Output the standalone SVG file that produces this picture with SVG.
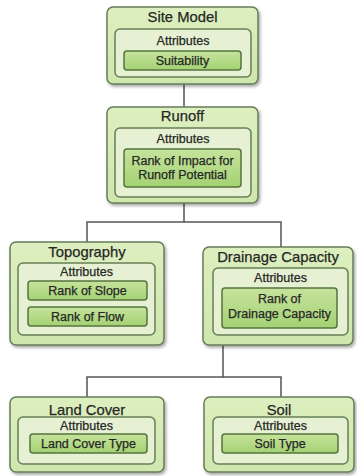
<svg xmlns="http://www.w3.org/2000/svg" width="357" height="476" viewBox="0 0 357 476">
<defs>
<filter id="sh" x="-10%" y="-10%" width="125%" height="125%">
<feDropShadow dx="1.5" dy="2" stdDeviation="1.5" flood-color="#000" flood-opacity="0.35"/>
</filter>
<linearGradient id="g1" x1="0" y1="0" x2="0" y2="1">
<stop offset="0" stop-color="#ddefbf"/>
<stop offset="1" stop-color="#cfe6ac"/>
</linearGradient>
<linearGradient id="g3" x1="0" y1="0" x2="0" y2="1">
<stop offset="0" stop-color="#c6e39c"/>
<stop offset="1" stop-color="#a4d274"/>
</linearGradient>
</defs>
<style>
.outer{fill:url(#g1);stroke:#657d58;stroke-width:1.5;filter:url(#sh)}
.inner{fill:#e5f1d2;stroke:#677f57;stroke-width:1.5}
.hl{fill:url(#g3);stroke:#56743f;stroke-width:1.5}
.t{font-family:"Liberation Sans",Arial,sans-serif;fill:#262626;stroke:#262626;stroke-width:0.25;text-anchor:middle}
.title{font-size:14.8px}
.attr{font-size:12.5px}
.lbl{font-size:12.5px}
.conn{fill:none;stroke:#555;stroke-width:1.5}
</style>
<g id="connectors">
<path class="conn" d="M184 84V107"/>
<path class="conn" d="M184 203V222H87V242"/>
<path class="conn" d="M184 222H281V247"/>
<path class="conn" d="M223 345V377H87V397"/>
<path class="conn" d="M223 377H281V397"/>
</g>
<g id="site-model">
<rect class="outer" x="107" y="7" width="151" height="77" rx="6"/>
<text class="t title" x="182.5" y="22">Site Model</text>
<rect class="inner" x="115" y="29" width="136" height="48" rx="5"/>
<text class="t attr" x="183" y="45">Attributes</text>
<rect class="hl" x="124" y="51" width="117" height="19" rx="3"/>
<text class="t lbl" x="182.5" y="65">Suitability</text>
</g>
<g id="runoff">
<rect class="outer" x="107" y="107" width="151" height="96" rx="6"/>
<text class="t title" x="182.5" y="121">Runoff</text>
<rect class="inner" x="115" y="128" width="136" height="69" rx="5"/>
<text class="t attr" x="183" y="143">Attributes</text>
<rect class="hl" x="124" y="149" width="117" height="38" rx="3"/>
<text class="t lbl" x="182.5" y="165">Rank of Impact for</text>
<text class="t lbl" x="182.5" y="179">Runoff Potential</text>
</g>
<g id="topography">
<rect class="outer" x="10" y="242" width="154" height="103" rx="6"/>
<text class="t title" x="87" y="257">Topography</text>
<rect class="inner" x="18" y="263" width="137" height="72" rx="5"/>
<text class="t attr" x="86.5" y="276">Attributes</text>
<rect class="hl" x="28" y="281" width="119" height="19" rx="3"/>
<text class="t lbl" x="87.5" y="295">Rank of Slope</text>
<rect class="hl" x="28" y="307" width="119" height="19" rx="3"/>
<text class="t lbl" x="87.5" y="321">Rank of Flow</text>
</g>
<g id="drainage-capacity">
<rect class="outer" x="203" y="247" width="150" height="98" rx="6"/>
<text class="t title" x="278" y="262">Drainage Capacity</text>
<rect class="inner" x="213" y="268" width="135" height="67" rx="5"/>
<text class="t attr" x="280.5" y="282">Attributes</text>
<rect class="hl" x="222" y="288" width="115" height="40" rx="3"/>
<text class="t lbl" x="279.5" y="303">Rank of</text>
<text class="t lbl" x="279.5" y="318">Drainage Capacity</text>
</g>
<g id="land-cover">
<rect class="outer" x="10" y="397" width="154" height="75" rx="6"/>
<text class="t title" x="87" y="415">Land Cover</text>
<rect class="inner" x="18" y="417" width="137" height="47" rx="5"/>
<text class="t attr" x="86.5" y="430">Attributes</text>
<rect class="hl" x="30" y="434" width="117" height="19" rx="3"/>
<text class="t lbl" x="88.5" y="448">Land Cover Type</text>
</g>
<g id="soil">
<rect class="outer" x="204" y="397" width="150" height="75" rx="6"/>
<text class="t title" x="279" y="415">Soil</text>
<rect class="inner" x="213" y="417" width="135" height="47" rx="5"/>
<text class="t attr" x="280.5" y="430">Attributes</text>
<rect class="hl" x="222" y="434" width="116" height="19" rx="3"/>
<text class="t lbl" x="280" y="448">Soil Type</text>
</g>
</svg>
